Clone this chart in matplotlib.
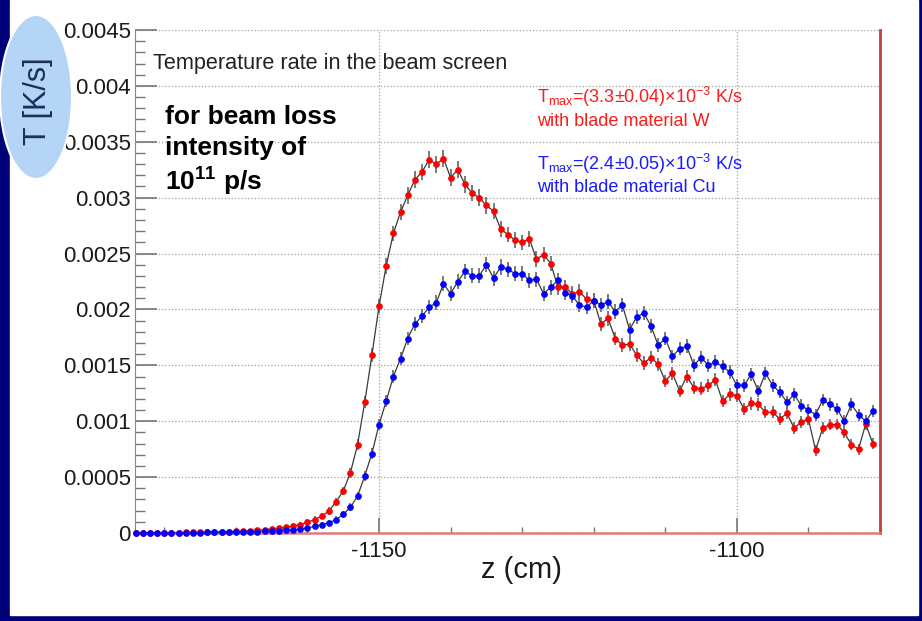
import numpy as np
import matplotlib
matplotlib.use("Agg")
import matplotlib.pyplot as plt
from matplotlib.patches import Ellipse, Rectangle
from matplotlib.ticker import MultipleLocator, FuncFormatter

plt.rcParams['font.family'] = ['Liberation Sans', 'DejaVu Sans']
plt.rcParams['mathtext.fontset'] = 'custom'
plt.rcParams['mathtext.rm'] = 'Liberation Sans'
plt.rcParams['mathtext.it'] = 'Liberation Sans:italic'
plt.rcParams['mathtext.bf'] = 'Liberation Sans:bold'
plt.rcParams['axes.unicode_minus'] = False

## data: bin centres (cm) and heating rate (1e-3 K/s)
z = np.arange(-1184, -1080)

t_cu = [0.002, 0.002, 0.002, 0.002, 0.003, 0.003, 0.003, 0.003, 0.004, 0.004,
        0.005, 0.005, 0.006, 0.007, 0.008, 0.009, 0.010, 0.012, 0.015, 0.018,
        0.021, 0.024, 0.028, 0.036, 0.045, 0.060, 0.075, 0.092, 0.12, 0.167,
        0.23, 0.33, 0.51, 0.71, 0.97, 1.18, 1.40, 1.56, 1.74, 1.87,
        1.94, 2.02, 2.06, 2.23, 2.14, 2.25, 2.34, 2.30, 2.30, 2.40,
        2.28, 2.38, 2.36, 2.32, 2.32, 2.26, 2.27, 2.14, 2.20, 2.26,
        2.15, 2.12, 2.04, 2.02, 2.08, 2.04, 2.07, 1.98, 2.04, 1.82,
        1.93, 1.97, 1.85, 1.68, 1.74, 1.58, 1.65, 1.67, 1.50, 1.57,
        1.50, 1.53, 1.49, 1.44, 1.32, 1.32, 1.42, 1.27, 1.43, 1.32,
        1.26, 1.17, 1.24, 1.14, 1.10, 1.06, 1.19, 1.15, 1.11, 1.00,
        1.15, 1.06, 1.00, 1.09]

t_w = [0.002, 0.002, 0.002, 0.003, 0.003, 0.004, 0.004, 0.005, 0.006, 0.007,
       0.008, 0.009, 0.011, 0.013, 0.015, 0.018, 0.022, 0.026, 0.030, 0.036,
       0.042, 0.051, 0.063, 0.075, 0.096, 0.12, 0.152, 0.197, 0.28, 0.376,
       0.54, 0.79, 1.17, 1.59, 2.03, 2.39, 2.68, 2.87, 3.02, 3.16,
       3.23, 3.34, 3.30, 3.35, 3.18, 3.25, 3.12, 3.04, 3.00, 2.93,
       2.88, 2.72, 2.67, 2.62, 2.60, 2.63, 2.45, 2.49, 2.41, 2.20,
       2.20, 2.14, 2.16, 2.09, 2.08, 1.87, 1.92, 1.74, 1.68, 1.69,
       1.59, 1.52, 1.57, 1.51, 1.36, 1.43, 1.27, 1.40, 1.30, 1.29,
       1.32, 1.37, 1.18, 1.24, 1.23, 1.11, 1.16, 1.15, 1.08, 1.08,
       1.02, 1.07, 0.94, 0.99, 1.02, 0.74, 0.94, 0.97, 0.97, 0.90,
       0.79, 0.75, 0.975, 0.80]

t_cu = np.array(t_cu) * 1e-3
t_w = np.array(t_w) * 1e-3

navy = '#000078'
W, H = 922, 621

fig = plt.figure(figsize=(W / 100, H / 100), dpi=100)
fig.patch.set_facecolor(navy)
fig.patches.append(Rectangle((10 / W, 6 / H), 908 / W, 615 / H,
                             transform=fig.transFigure, color='white', zorder=-5))

ax = fig.add_axes([135 / W, 88 / H, 745 / W, 503 / H])
ax.set_facecolor('white')

for vals, col in [(t_w, '#ff0000'), (t_cu, '#0000ff')]:
    err = 6.5e-5 * (vals / 2e-3) ** 0.3
    ax.errorbar(z, vals, yerr=err, fmt='none', ecolor='#707070',
                elinewidth=1.3, zorder=3, clip_on=False)
    ax.plot(z, vals, '-', color='#3a3a3a', lw=0.9, zorder=4, clip_on=False)
    ax.plot(z, vals, 'o', color=col, ms=3.8, mec=col, zorder=5, clip_on=False)

ax.set_xlim(-1184.1, -1080)
ax.set_ylim(0, 0.0045)

ax.xaxis.set_major_locator(MultipleLocator(50))
ax.xaxis.set_minor_locator(MultipleLocator(10))
ax.yaxis.set_major_locator(MultipleLocator(0.0005))
ax.yaxis.set_minor_locator(MultipleLocator(0.0001))
ax.yaxis.set_major_formatter(FuncFormatter(lambda v, p: '%g' % round(v, 6)))

ax.tick_params(axis='both', which='both', direction='in', colors='#777777',
               labelcolor='#1a1a1a', labelsize=16)
ax.tick_params(axis='y', which='major', length=16, width=1.2, pad=3)
ax.tick_params(axis='y', which='minor', length=7, width=1)
ax.tick_params(axis='x', which='major', length=11, width=1.2, pad=6)
ax.tick_params(axis='x', which='minor', length=4.5, width=1)

ax.grid(True, which='major', color='#a0a0a0', ls=':', lw=0.9)
ax.set_axisbelow(True)

ax.spines['top'].set_visible(False)
ax.spines['left'].set_color('#888888')
ax.spines['bottom'].set_color('#e07a7a')
ax.spines['bottom'].set_linewidth(1.8)
ax.spines['right'].set_color('#c04040')
ax.spines['right'].set_linewidth(2)

fig.text(521 / W, 1 - 570 / H, 'z (cm)', fontsize=21, color='#1a1a1a',
         ha='center', va='center')

fig.text(153 / W, 1 - 63 / H, 'Temperature rate in the beam screen',
         fontsize=15.6, color='#222222', ha='left', va='center')

bold_lines = ['for beam loss', 'intensity of', '10$^{\\mathbf{11}}$ p/s']
for line, ypx in zip(bold_lines, [117, 148, 182]):
    fig.text(165 / W, 1 - ypx / H, line, fontsize=19, fontweight='bold',
             color='black', ha='left', va='center')

red, blue = '#ff1a1a', '#1a1aff'
fig.text(537 / W, 1 - 97 / H, r'T$_{\rm max}$=(3.3$\pm$0.04)$\times$10$^{-3}$ K/s',
         fontsize=13, color=red, ha='left', va='center')
fig.text(537 / W, 1 - 121 / H, 'with blade material W',
         fontsize=13, color=red, ha='left', va='center')
fig.text(537 / W, 1 - 164 / H, r'T$_{\rm max}$=(2.4$\pm$0.05)$\times$10$^{-3}$ K/s',
         fontsize=13, color=blue, ha='left', va='center')
fig.text(537 / W, 1 - 188 / H, 'with blade material Cu',
         fontsize=13, color=blue, ha='left', va='center')

# y title sits in a light-blue oval over the tick labels
fig.patches.append(Ellipse((36 / W, 1 - 97 / H), 72 / W, 164 / H,
                           transform=fig.transFigure, facecolor='#b4d5f5',
                           edgecolor='white', lw=1.5, zorder=10))
fig.text(38 / W, 1 - 101 / H, 'T [K/s]', fontsize=22, color='#1c2e5c',
         rotation=90, ha='center', va='center', zorder=11)

fig.savefig('out.png', dpi=100, facecolor=fig.get_facecolor())
